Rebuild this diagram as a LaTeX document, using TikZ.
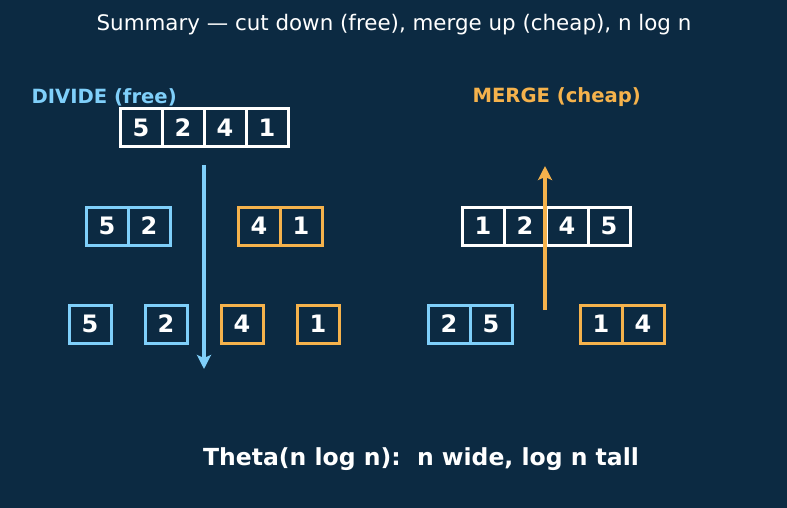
\documentclass[tikz,border=0pt]{standalone}
\usepackage{fontspec}
\setmainfont{DejaVu Sans}
\usetikzlibrary{arrows.meta}
\definecolor{bgnavy}{HTML}{0C2A42}
\definecolor{divblue}{HTML}{7FCFFA}
\definecolor{mrgorange}{HTML}{F5B24C}

\begin{document}
\begin{tikzpicture}[x=1pt, y=-1pt,
    cell/.style={draw=white, line width=3pt, minimum width=42pt, minimum height=38pt,
        inner sep=0pt, text=white, font=\bfseries\fontsize{24}{24}\selectfont},
    bluecell/.style={cell, draw=divblue},
    orangecell/.style={cell, draw=mrgorange},
    flow/.style={line width=3.2pt, -{Stealth[length=14pt, width=14pt, inset=3pt]}},
    heading/.style={font=\bfseries\fontsize{19.6}{19.6}\selectfont}]
% background
\fill[bgnavy] (0,0) rectangle (787,508);
\useasboundingbox (0,0) rectangle (787,508);
% title and headings
\node[text=white, font=\fontsize{21.4}{21.4}\selectfont] (title) at (394,25) {Summary — cut down (free), merge up (cheap), n log n};
\node[heading, text=divblue, anchor=west] (divlabel) at (28,97.5) {DIVIDE (free)};
\node[heading, text=mrgorange, anchor=west] (mrglabel) at (469,97.5) {MERGE (cheap)};
% divide: whole array
\foreach \i/\x/\v in {0/141/5,1/183/2,2/225/4,3/267/1} {
    \node[cell] (d\i) at (\x,128) {\v};
}
% divide: halves
\node[bluecell] (hl0) at (107,226) {5};
\node[bluecell] (hl1) at (149,226) {2};
\node[orangecell] (hr0) at (259,226) {4};
\node[orangecell] (hr1) at (301,226) {1};
% divide: single elements
\node[bluecell] (s0) at (90,324) {5};
\node[bluecell] (s1) at (166,324) {2};
\node[orangecell] (s2) at (242,324) {4};
\node[orangecell] (s3) at (318,324) {1};
% merge: sorted halves
\node[bluecell] (ml0) at (449,324) {2};
\node[bluecell] (ml1) at (491,324) {5};
\node[orangecell] (mr0) at (601,324) {1};
\node[orangecell] (mr1) at (643,324) {4};
% merge: sorted array
\foreach \i/\x/\v in {0/483/1,1/525/2,2/567/4,3/609/5} {
    \node[cell] (m\i) at (\x,226) {\v};
}
% arrows
\coordinate (divtop) at (204,165);
\coordinate (divbot) at (204,369);
\coordinate (mrgbot) at (545,310);
\coordinate (mrgtop) at (545,166);
\draw[flow, divblue] (divtop) -- (divbot);
\draw[flow, mrgorange] (mrgbot) -- (mrgtop);
% bottom line
\node[text=white, font=\bfseries\fontsize{23.5}{23.5}\selectfont] (cost) at (421,459) {Theta(n log n):\ \ n wide, log n tall};
\end{tikzpicture}
\end{document}
